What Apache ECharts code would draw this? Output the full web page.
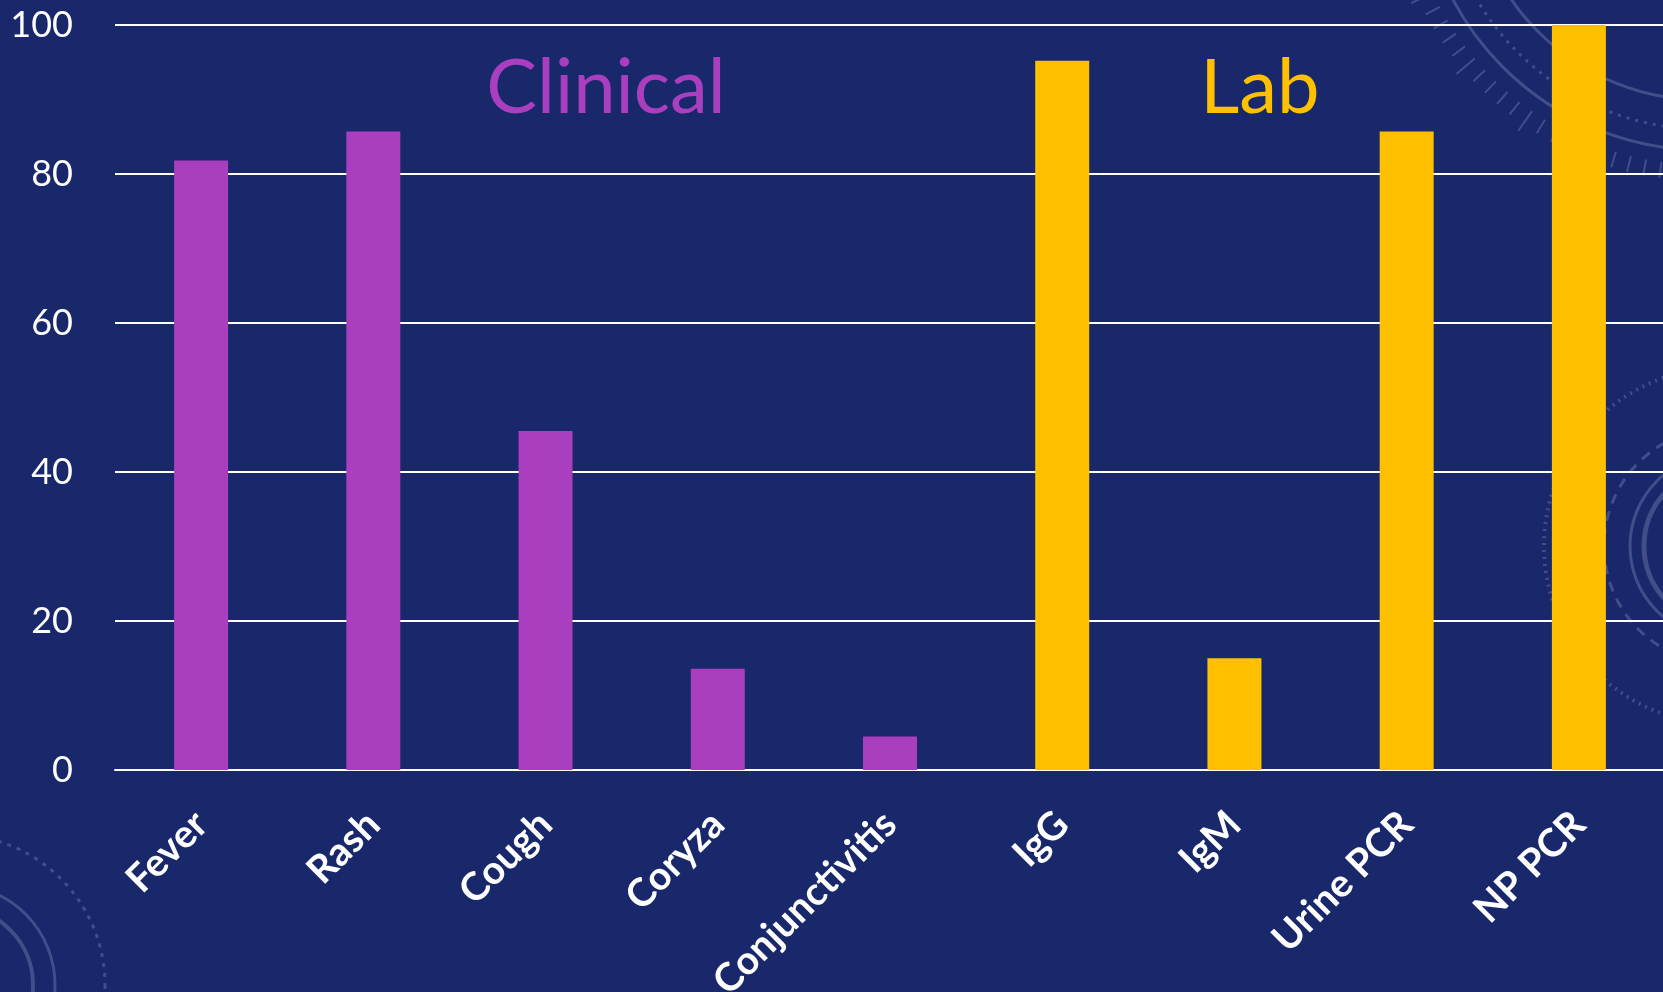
<!DOCTYPE html>
<html>
<head>
<meta charset="utf-8">
<script src="https://cdn.jsdelivr.net/npm/echarts@6/dist/echarts.min.js"></script>
<style>
html,body{margin:0;padding:0;background:#19276b;}
#chart{width:1663px;height:992px;}
</style>
</head>
<body>
<div id="chart"></div>
<script>
const categories = ['Fever', 'Rash', 'Cough', 'Coryza', 'Conjunctivitis', 'IgG', 'IgM', 'Urine PCR', 'NP PCR'];
const values = [81.8, 85.7, 45.5, 13.6, 4.5, 95.2, 15.0, 85.7, 100];
const groups = ['Clinical', 'Clinical', 'Clinical', 'Clinical', 'Clinical', 'Lab', 'Lab', 'Lab', 'Lab'];
const yTicks = [0, 20, 40, 60, 80, 100];
const groupTitles = ['Clinical', 'Lab'];

const groupColors = { Clinical: '#a93fbe', Lab: '#ffc000' };
const deco = 'rgba(170,180,220,0.28)';

const chart = echarts.init(document.getElementById('chart'));

// decorative background rings
const decoElements = [];
function ring(cx, cy, r, w, dash) {
  decoElements.push({
    type: 'circle', silent: true, z: -10,
    shape: { cx: cx, cy: cy, r: r },
    style: { fill: 'none', stroke: deco, lineWidth: w, lineDash: dash || null }
  });
}
ring(1703, -133, 233, 3);
ring(1703, -133, 283, 3);
ring(1703, -133, 262, 3, [3, 6]);
for (let a = 95; a <= 175; a += 3) {
  const rad = a * Math.PI / 180;
  const r1 = 298, r2 = (a % 15 === 5) ? 322 : 314;
  decoElements.push({
    type: 'line', silent: true, z: -10,
    shape: { x1: 1703 + r1 * Math.cos(rad), y1: -133 + r1 * Math.sin(rad), x2: 1703 + r2 * Math.cos(rad), y2: -133 + r2 * Math.sin(rad) },
    style: { stroke: deco, lineWidth: 2 }
  });
}
ring(1722, 546, 178, 4, [2, 5]);
ring(1722, 546, 118, 3, [10, 8]);
ring(1722, 546, 92, 3);
ring(1722, 546, 78, 5);
ring(-45, 985, 150, 3, [4, 6]);
ring(-45, 985, 100, 3);
ring(-45, 985, 78, 4);

const titleElements = [
  { x: 606, text: groupTitles[0], color: groupColors.Clinical },
  { x: 1260, text: groupTitles[1], color: groupColors.Lab }
].map(t => ({
  type: 'text', silent: true, z: 10,
  x: t.x, y: 88,
  style: {
    text: t.text, fill: t.color,
    font: '400 76px Lato',
    textAlign: 'center', textVerticalAlign: 'middle'
  }
}));

const option = {
  backgroundColor: '#19276b',
  animation: false,
  grid: { left: 115, right: -2, top: 25, bottom: 222, containLabel: false, outerBoundsMode: 'none' },
  xAxis: {
    type: 'category',
    data: categories,
    axisLine: { show: true, lineStyle: { color: '#ffffff', width: 2 } },
    axisTick: { show: false },
    axisLabel: {
      interval: 0,
      rotate: 45,
      color: '#ffffff',
      fontFamily: 'Lato',
      fontWeight: 'bold',
      fontSize: 39,
      margin: 48,
      verticalAlign: 'middle'
    }
  },
  yAxis: {
    type: 'value',
    min: yTicks[0],
    max: yTicks[yTicks.length - 1],
    interval: yTicks[1] - yTicks[0],
    axisLine: { show: false },
    axisTick: { show: false },
    splitLine: { show: true, lineStyle: { color: '#ffffff', width: 2 } },
    axisLabel: {
      color: '#ffffff',
      fontFamily: 'Lato',
      fontSize: 36,
      margin: 42
    }
  },
  series: [{
    type: 'bar',
    barWidth: 54,
    data: values.map((v, i) => ({ value: v, itemStyle: { color: groupColors[groups[i]] } }))
  }],
  graphic: { elements: decoElements.concat(titleElements) }
};
chart.setOption(option);
</script>
</body>
</html>
